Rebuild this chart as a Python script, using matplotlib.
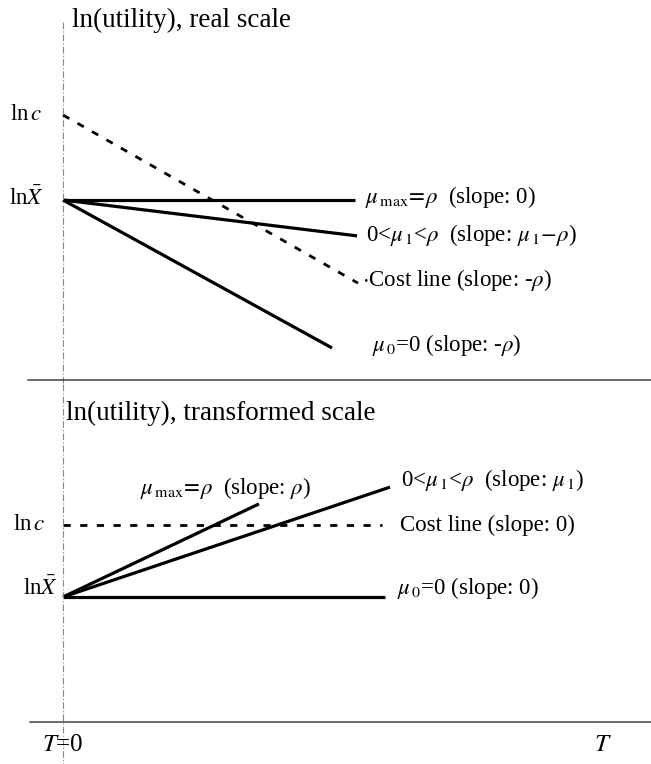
import numpy as np
import matplotlib.pyplot as plt

plt.rcParams['font.family'] = ['Liberation Serif', 'DejaVu Serif']
plt.rcParams['mathtext.fontset'] = 'stix'

# real scale panel: lines start at T=0 from ln Xbar (0) or ln c
top_labels = [r'$\mu_{\,\rm max}\!=\!\rho$  (slope: 0)',
              r'0<$\mu_{\,1}$<$\rho$  (slope: $\mu_{\,1}\!-\!\rho$)',
              r'$\cdot$Cost line (slope: -$\rho$)',
              r'$\mu_{\,0}$=0 (slope: -$\rho$)']
top_start = [0.0, 0.0, 0.85, 0.0]
top_slope = [0.0, -0.122, -0.57, -0.55]
top_end = [2.92, 2.94, 2.95, 2.69]
top_dashed = [False, False, True, False]
top_text_x = [3.02, 3.03, 2.99, 3.09]
top_text_y = [0.03, -0.35, -0.80, -1.45]

# transformed scale panel
bot_labels = [r'$\mu_{\,\rm max}\!=\!\rho$  (slope: $\rho$)',
              r'0<$\mu_{\,1}$<$\rho$  (slope: $\mu_{\,1}$)',
              'Cost line (slope: 0)',
              r'$\mu_{\,0}$=0 (slope: 0)']
bot_start = [0.0, 0.0, 0.72, 0.0]
bot_slope = [0.475, 0.336, 0.0, 0.0]
bot_end = [1.96, 3.27, 3.19, 3.22]
bot_dashed = [False, False, True, False]
bot_text_x = [0.77, 3.38, 3.37, 3.34]
bot_text_y = [1.09, 1.17, 0.72, 0.09]

lnc_top, lnc_bot = 0.85, 0.72

fig = plt.figure(figsize=(6.51, 7.64), dpi=100)
ax1 = fig.add_axes([0, 380 / 764, 1, 384 / 764])
ax2 = fig.add_axes([0, 0, 1, 380 / 764])
ax1.set_xlim(-0.63, 5.88)
ax1.set_ylim(-1.84, 2.0)
ax2.set_xlim(-0.63, 5.88)
ax2.set_ylim(-1.67, 2.13)
for ax in (ax1, ax2):
    ax.set_axis_off()

fs = 16.5


def draw_panel(ax, starts, slopes, ends, dashed, labels, tx, ty):
    for s, k, e, d, lab, x, y in zip(starts, slopes, ends, dashed, labels, tx, ty):
        t = np.array([0.0, e])
        if d:
            ax.plot(t, s + k * t, color='black', lw=2.0, ls=(0, (2.6, 3.4)),
                    solid_capstyle='butt')
        else:
            ax.plot(t, s + k * t, color='black', lw=2.3, solid_capstyle='butt')
        ax.text(x, y, lab, fontsize=fs, ha='left', va='center')


draw_panel(ax1, top_start, top_slope, top_end, top_dashed, top_labels,
           top_text_x, top_text_y)
draw_panel(ax2, bot_start, bot_slope, bot_end, bot_dashed, bot_labels,
           bot_text_x, bot_text_y)

# vertical axis at T=0 and panel baselines
ax1.plot([0, 0], [1.78, -1.84], color='#888888', lw=0.8, ls=(0, (6, 2, 1, 2)))
ax2.plot([0, 0], [2.13, -1.67], color='#888888', lw=0.8, ls=(0, (6, 2, 1, 2)))
ax1.plot([-0.35, 5.88], [-1.80, -1.80], color='#444444', lw=1.1)
ax2.plot([-0.33, 5.88], [-1.25, -1.25], color='#444444', lw=1.1)

# titles and axis labels
ax1.text(0.09, 1.80, 'ln(utility), real scale', fontsize=19.5, ha='left', va='center')
ax2.text(0.03, 1.84, 'ln(utility), transformed scale', fontsize=19.5, ha='left', va='center')
ax1.text(-0.21, lnc_top, r'ln$\,c$', fontsize=fs, ha='right', va='center')
ax1.text(-0.19, 0.02, r'ln$\bar{X}$', fontsize=fs, ha='right', va='center')
ax2.text(-0.18, lnc_bot, r'ln$\,c$', fontsize=fs, ha='right', va='center')
ax2.text(-0.05, 0.09, r'ln$\bar{X}$', fontsize=fs, ha='right', va='center')
ax2.text(0.0, -1.48, r'$T$=0', fontsize=18, ha='center', va='center')
ax2.text(5.40, -1.48, r'$T$', fontsize=18, ha='center', va='center')

fig.savefig('out.png', dpi=100)
